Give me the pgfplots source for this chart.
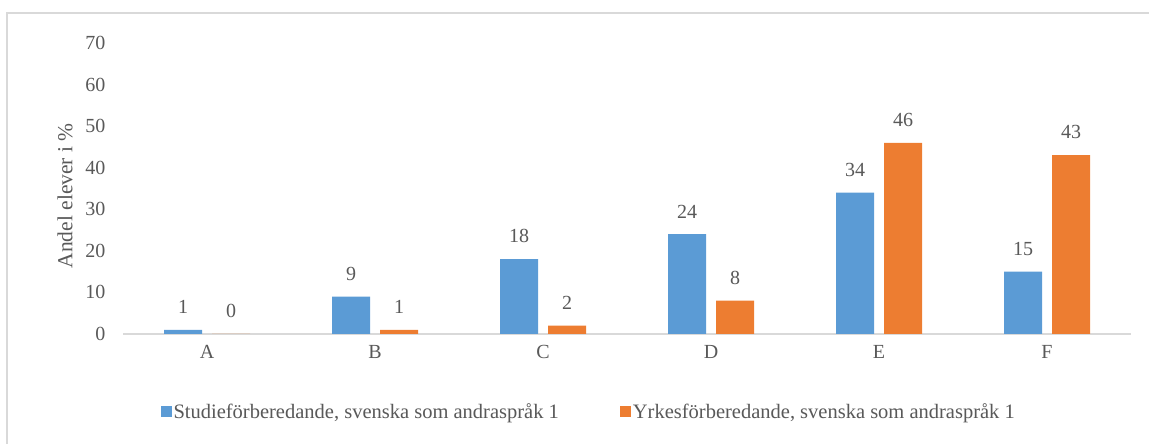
\documentclass[border=0pt]{standalone}
\usepackage{fontspec}
\setmainfont{Liberation Serif}
\usepackage{pgfplots}
\pgfplotsset{compat=1.18}
\definecolor{cblue}{HTML}{5B9BD5}
\definecolor{corange}{HTML}{ED7D31}
\definecolor{tgray}{HTML}{595959}
\definecolor{lgray}{HTML}{D9D9D9}
\begin{document}
\begin{tikzpicture}[x=1pt,y=1pt]
\useasboundingbox (0,0) rectangle (1149,444);
\draw[lgray,line width=2pt] (7,0) -- (7,431) -- (1149,431);
\begin{axis}[
  at={(123pt,110pt)}, anchor=south west,
  scale only axis, width=1008pt, height=291pt,
  xmin=-0.5, xmax=5.5, ymin=0, ymax=70,
  xtick={0,1,2,3,4,5}, xticklabels={A,B,C,D,E,F},
  ytick={0,10,...,70},
  axis x line*=bottom, axis y line*=left,
  x axis line style={lgray, line width=1.5pt, -},
  y axis line style={draw=none},
  major tick length=0pt,
  tick label style={font=\fontsize{20}{23}\selectfont, text=tgray},
  /pgf/number format/assume math mode=true,
  yticklabel style={xshift=-14pt},
  xticklabel style={yshift=-8pt},
  ylabel={Andel elever i \%},
  ylabel style={font=\fontsize{21.5}{24}\selectfont, text=tgray, at={(rel axis cs:0,0.475)}, anchor=center, rotate=0, xshift=0pt, yshift=58pt},
  ybar, bar width=38pt,
  nodes near coords,
  every node near coord/.append style={font=\fontsize{20}{23}\selectfont, text=tgray, anchor=south, inner sep=0pt, yshift=16pt},
  legend style={at={(0.462,-0.268)}, anchor=center, draw=none, legend columns=2,
    font=\fontsize{20.5}{23}\selectfont, text=tgray,
    /tikz/every even column/.append style={column sep=59pt}},
  legend image code/.code={\fill[#1] (0pt,-5.5pt) rectangle (11pt,5.5pt);},
  clip=false,
]
\addplot[fill=cblue, draw=none, bar shift=-24pt] coordinates {(0,1) (1,9) (2,18) (3,24) (4,34) (5,15)};
\addplot[fill=corange, draw=none, bar shift=24pt] coordinates {(0,0) (1,1) (2,2) (3,8) (4,46) (5,43)};
\legend{{Studieförberedande, svenska som andraspråk 1}, {Yrkesförberedande, svenska som andraspråk 1}}
\end{axis}
\end{tikzpicture}
\end{document}
